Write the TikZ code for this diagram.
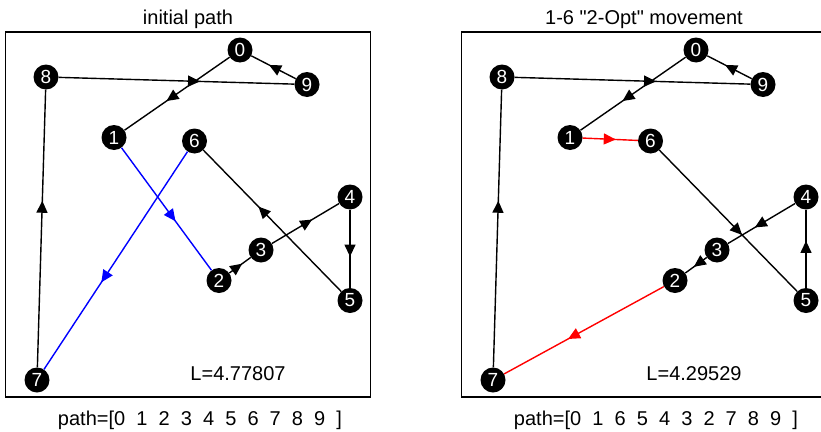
\documentclass[tikz,border=0pt]{standalone}
\usepackage{fontspec}
\setmainfont{Liberation Sans}
\usetikzlibrary{arrows.meta,decorations.markings}
\begin{document}
\begin{tikzpicture}[x=1pt,y=-1pt,
  city/.style={circle,fill=black,text=white,inner sep=0pt,minimum size=25pt,
    font=\fontsize{19}{19}\selectfont},
  leg/.style={line width=1.4pt,postaction={decorate},
    decoration={markings,mark=at position 0.6 with {\arrow{Triangle[length=12pt,width=11pt]}}}},
  panel/.style={draw,line width=1.4pt},
  lbl/.style={font=\fontsize{20}{20}\selectfont,inner sep=0pt}]
\useasboundingbox (0,0) rectangle (821,431);
\clip (0,0) rectangle (821,431);
% frames
\draw[panel] (5.5,32) rectangle (370.5,397);
\draw[panel] (461.5,32) rectangle (826.5,397);
% titles
\node[lbl,anchor=base] (t1) at (188,24) {initial path};
\node[lbl,anchor=base] (t2) at (644,24) {1-6 \textquotedbl2-Opt\textquotedbl\ movement};
\node[lbl,anchor=base] (L1) at (238,380) {L=4.77807};
\node[lbl,anchor=base] (L2) at (694,380) {L=4.29529};
\node[lbl,anchor=base] (p1) at (200,425) {path=[0\ \ 1\ \ 2\ \ 3\ \ 4\ \ 5\ \ 6\ \ 7\ \ 8\ \ 9\ \ ]};
\node[lbl,anchor=base] (p2) at (656,425) {path=[0\ \ 1\ \ 6\ \ 5\ \ 4\ \ 3\ \ 2\ \ 7\ \ 8\ \ 9\ \ ]};
% cities
\foreach \n/\x/\y in {0/240/50,1/114/137.5,2/219/280.5,3/261/250,4/350/197,5/350/300.5,6/194.5/141,7/37/380,8/46/77,9/307/84.5}{
  \node[city] (a\n) at (\x,\y) {\n};
  \node[city] (b\n) at (\x+456,\y) {\n};
}
% initial path
\draw[leg] (a0) -- (a1);
\draw[leg,blue] (a1) -- (a2);
\draw[leg] (a2) -- (a3);
\draw[leg] (a3) -- (a4);
\draw[leg] (a4) -- (a5);
\draw[leg] (a5) -- (a6);
\draw[leg,blue] (a6) -- (a7);
\draw[leg] (a7) -- (a8);
\draw[leg] (a8) -- (a9);
\draw[leg] (a9) -- (a0);
% 2-opt path
\draw[leg] (b0) -- (b1);
\draw[leg,red] (b1) -- (b6);
\draw[leg] (b6) -- (b5);
\draw[leg] (b5) -- (b4);
\draw[leg] (b4) -- (b3);
\draw[leg] (b3) -- (b2);
\draw[leg,red] (b2) -- (b7);
\draw[leg] (b7) -- (b8);
\draw[leg] (b8) -- (b9);
\draw[leg] (b9) -- (b0);
\end{tikzpicture}
\end{document}
